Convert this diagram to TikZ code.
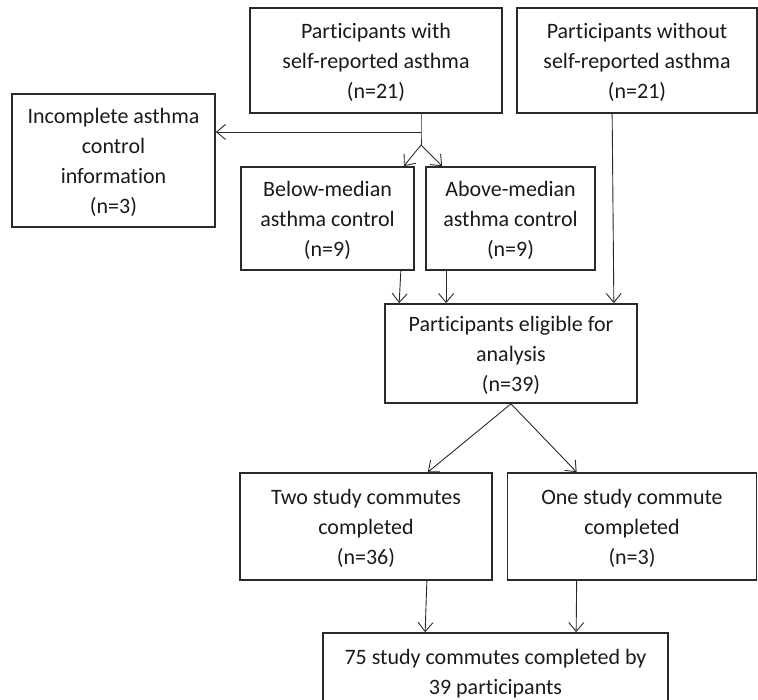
\documentclass[tikz,border=0pt]{standalone}
\usepackage{fontspec}
\setmainfont{Carlito}[Ligatures=NoCommon]
\usetikzlibrary{arrows.meta,calc}
\definecolor{ln}{HTML}{2A2A2A}
\definecolor{tx}{HTML}{1A1A1A}
\begin{document}
\begin{tikzpicture}[x=1pt,y=-1pt,
  box/.style={draw=ln,line width=1.7pt,inner sep=0pt,align=center,text=tx,
    text depth=-4pt,font=\fontsize{22}{30}\selectfont},
  arr/.style={draw=ln,line width=0.9pt,-{Straight Barb[length=9pt,width=15pt,line width=0.9pt]}},
  ln/.style={draw=ln,line width=0.9pt}]
\useasboundingbox (0,0) rectangle (758,700);
\clip (0,0) rectangle (758,700);
\node[box,minimum width=252pt,minimum height=105pt] (with) at (376,60.5)
  {Participants with\\self-reported asthma\\(n=21)};
\node[box,minimum width=240pt,minimum height=105pt] (without) at (637,60.5)
  {Participants without\\self-reported asthma\\(n=21)};
\node[box,minimum width=203pt,minimum height=133pt] (inc) at (113.5,160.5)
  {Incomplete asthma\\control\\information\\(n=3)};
\node[box,minimum width=173pt,minimum height=103pt] (below) at (327.5,218.5)
  {Below-median\\asthma control\\(n=9)};
\node[box,minimum width=169pt,minimum height=103pt] (above) at (510.5,218.5)
  {Above-median\\asthma control\\(n=9)};
\node[box,minimum width=252pt,minimum height=99pt] (elig) at (511,353.5)
  {Participants eligible for\\analysis\\(n=39)};
\node[box,minimum width=252pt,minimum height=107pt] (two) at (366,526.5)
  {Two study commutes\\completed\\(n=36)};
\node[box,minimum width=249pt,minimum height=107pt] (one) at (632,526.5)
  {One study commute\\completed\\(n=3)};
\node[box,minimum width=345pt,minimum height=78pt] (fin) at (495.5,672)
  {75 study commutes completed by\\39 participants};
\coordinate (j1) at (421,132);
\coordinate (j2) at (421,145);
\draw[ln] (with.south -| j1) -- (j1) -- (j2);
\draw[arr] (j1) -- (inc.east |- j1);
\draw[arr] (j2) -- ($(below.north east)+(-11,0)$);
\draw[arr] (j2) -- ($(above.north west)+(17,0)$);
\draw[arr] ($(below.south east)+(-14,0)$) -- ($(elig.north west)+(15,0)$);
\draw[arr] ($(above.south west)+(21,0)$) -- ($(elig.north west)+(62,0)$);
\draw[arr] ($(without.south west)+(96,0)$) -- ($(elig.north east)+(-24,0)$);
\draw[arr] (elig.south) -- ($(two.north east)+(-65,0)$);
\draw[arr] (elig.south) -- ($(one.north west)+(70,0)$);
\draw[arr] ($(two.south east)+(-66,0)$) -- ($(fin.north west)+(103,0)$);
\draw[arr] ($(one.south west)+(70,0)$) -- ($(fin.north west)+(254,0)$);
\end{tikzpicture}
\end{document}
